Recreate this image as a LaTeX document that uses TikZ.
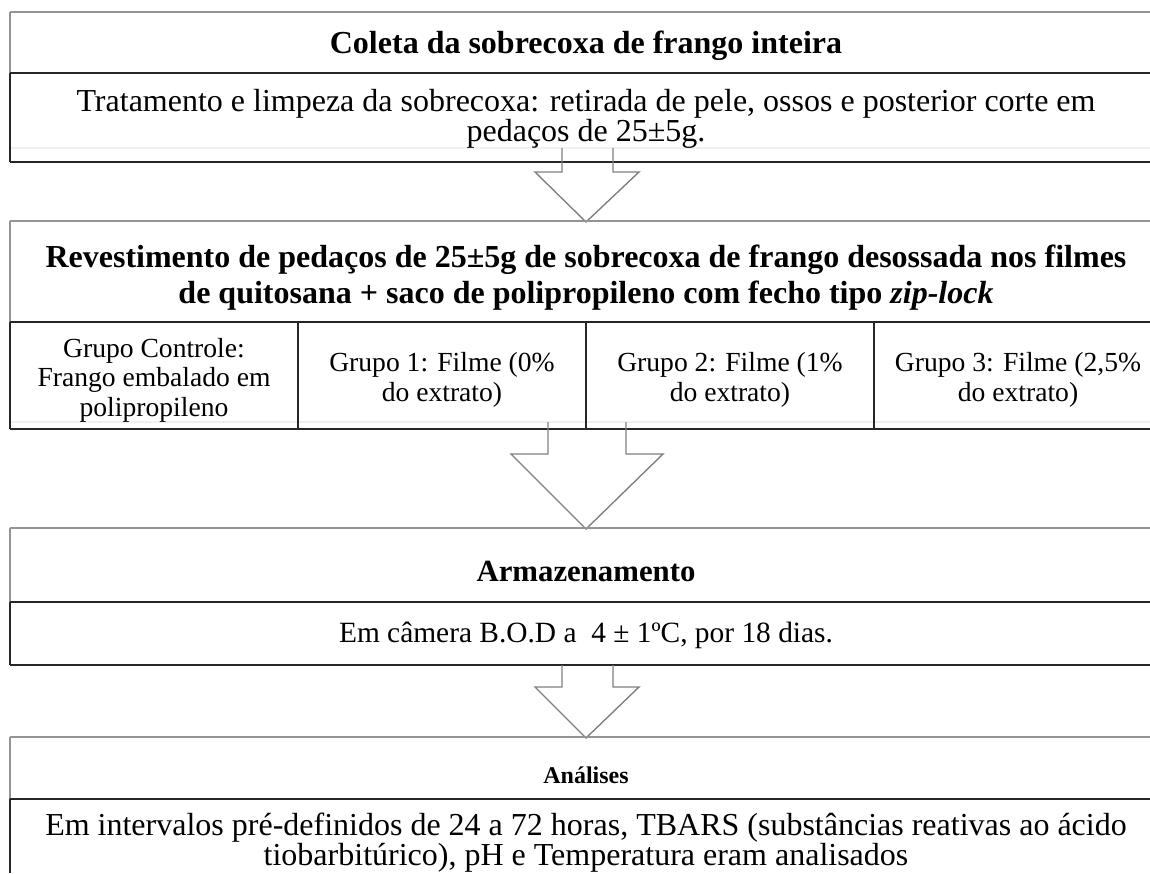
\documentclass[tikz,border=0pt]{standalone}
\usepackage{fontspec}
\setmainfont{Liberation Serif}
\begin{document}
\begin{tikzpicture}[x=0.5pt,y=-0.5pt,
  grayln/.style={draw=black!42, line width=0.9pt},
  darkln/.style={draw=black!85, line width=0.8pt},
  faintln/.style={draw=black!6, line width=1.2pt},
  bigarrow/.style={draw=black!50, line width=0.7pt},
  txt/.style={font=\fontsize{16}{15}\selectfont, align=center, inner sep=0pt},
  celltxt/.style={font=\fontsize{13.8}{14.8}\selectfont, align=center, inner sep=0pt},
  midtxt/.style={font=\fontsize{14.7}{15}\selectfont, align=center, inner sep=0pt},
  headtxt/.style={font=\fontsize{16}{18}\selectfont\bfseries, align=center, inner sep=0pt},
  midhead/.style={font=\fontsize{15.4}{18}\selectfont\bfseries, align=center, inner sep=0pt},
  smallhead/.style={font=\fontsize{12}{14}\selectfont\bfseries, align=center, inner sep=0pt}]
\useasboundingbox (0,0) rectangle (1150,873);

% ---------- Box 1 ----------
\draw[faintln] (10,148) -- (1150,148);
\draw[grayln] (10,12) -- (1150,12);
\draw[grayln] (10,12) -- (10,73);
\draw[darkln] (10,73) -- (10,162);
\draw[darkln] (10,73) -- (1150,73);
\draw[darkln] (10,162) -- (1150,162);
\node[headtxt] (t1) at (586,46) {Coleta da sobrecoxa de frango inteira};
\node[txt] (d1) at (586,119) {Tratamento e limpeza da sobrecoxa: retirada de pele, ossos e posterior corte em\\pedaços de 25±5g.};

% arrow 1
\draw[bigarrow] (562,148) -- (562,172) -- (535,172) -- (586,222) -- (639,172) -- (613,172) -- (613,148);

% ---------- Box 2 ----------
\draw[faintln] (10,422) -- (1150,422);
\draw[grayln] (10,221) -- (1150,221);
\draw[grayln] (10,221) -- (10,322);
\draw[darkln] (10,322) -- (10,429);
\draw[darkln] (10,322) -- (1150,322);
\draw[darkln] (10,429) -- (1150,429);
\draw[darkln] (298,322) -- (298,429);
\draw[darkln] (586,322) -- (586,429);
\draw[darkln] (874,322) -- (874,429);
\node[headtxt] (t2) at (586,278) {Revestimento de pedaços de 25±5g de sobrecoxa de frango desossada nos filmes\\de quitosana + saco de polipropileno com fecho tipo \textit{zip-lock}};
\node[celltxt] (g0) at (154,380) {Grupo Controle:\\Frango embalado em\\polipropileno};
\node[celltxt] (g1) at (442,380) {Grupo 1: Filme (0\%\\do extrato)};
\node[celltxt] (g2) at (730,380) {Grupo 2: Filme (1\%\\do extrato)};
\node[celltxt] (g3) at (1018,380) {Grupo 3: Filme (2,5\%\\do extrato)};

% arrow 2
\draw[bigarrow] (548,422) -- (548,454) -- (511,454) -- (586,529) -- (663,454) -- (626,454) -- (626,422);

% ---------- Box 3 ----------
\draw[grayln] (10,528) -- (1150,528);
\draw[grayln] (10,528) -- (10,602);
\draw[darkln] (10,602) -- (10,665);
\draw[darkln] (10,602) -- (1150,602);
\draw[darkln] (10,665) -- (1150,665);
\node[midhead] (t3) at (586,571) {Armazenamento};
\node[midtxt] (d3) at (586,635) {Em câmera B.O.D a \ 4 ± 1ºC, por 18 dias.};

% arrow 3
\draw[bigarrow] (562,665) -- (562,687) -- (535,687) -- (586,738) -- (639,687) -- (613,687) -- (613,665);

% ---------- Box 4 ----------
\draw[grayln] (10,737) -- (1150,737);
\draw[grayln] (10,737) -- (10,799);
\draw[darkln] (10,799) -- (10,873);
\draw[darkln] (10,799) -- (1150,799);
\node[smallhead] (t4) at (586,775) {Análises};
\node[txt] (d4) at (586,843) {Em intervalos pré-definidos de 24 a 72 horas, TBARS (substâncias reativas ao ácido\\tiobarbitúrico), pH e Temperatura eram analisados};
\end{tikzpicture}
\end{document}
